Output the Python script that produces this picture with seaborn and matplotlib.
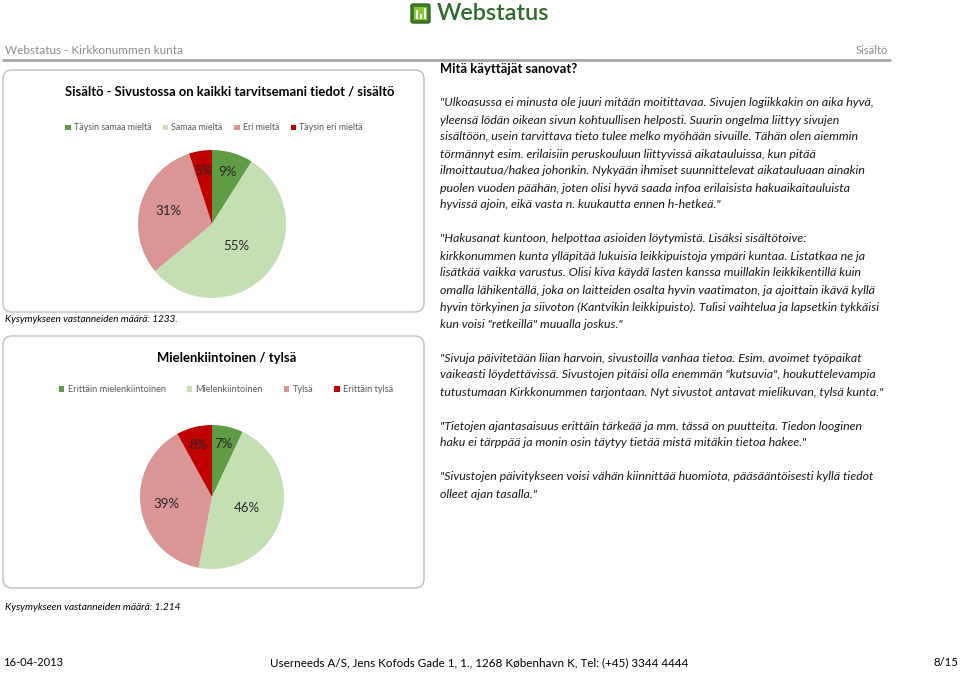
import matplotlib
matplotlib.use("Agg")
import matplotlib.pyplot as plt
from matplotlib.patches import FancyBboxPatch, Rectangle
import numpy as np
import seaborn as sns

# ---------------- data ----------------
chart1_title = "Sisältö - Sivustossa on kaikki tarvitsemani tiedot / sisältö"
chart1_labels = ["Täysin samaa mieltä", "Samaa mieltä", "Eri mieltä", "Täysin eri mieltä"]
chart1_values = [9, 55, 31, 5]
chart1_note = "Kysymykseen vastanneiden määrä: 1233."

chart2_title = "Mielenkiintoinen / tylsä"
chart2_labels = ["Erittäin mielenkiintoinen", "Mielenkiintoinen", "Tylsä", "Erittäin tylsä"]
chart2_values = [7, 46, 39, 8]
chart2_note = "Kysymykseen vastanneiden määrä: 1.214"

header_left = "Webstatus - Kirkkonummen kunta"
header_right = "Sisältö"
quotes_heading = "Mitä käyttäjät sanovat?"
quotes = [
    ['"Ulkoasussa ei minusta ole juuri mitään moitittavaa. Sivujen logiikkakin on aika hyvä,',
     'yleensä lödän oikean sivun kohtuullisen helposti. Suurin ongelma liittyy sivujen',
     'sisältöön, usein tarvittava tieto tulee melko myöhään sivuille. Tähän olen aiemmin',
     'törmännyt esim. erilaisiin peruskouluun liittyvissä aikatauluissa, kun pitää',
     'ilmoittautua/hakea johonkin. Nykyään ihmiset suunnittelevat aikatauluaan ainakin',
     'puolen vuoden päähän, joten olisi hyvä saada infoa erilaisista hakuaikaitauluista',
     'hyvissä ajoin, eikä vasta n. kuukautta ennen h-hetkeä."'],
    ['"Hakusanat kuntoon, helpottaa asioiden löytymistä. Lisäksi sisältötoive:',
     'kirkkonummen kunta ylläpitää lukuisia leikkipuistoja ympäri kuntaa. Listatkaa ne ja',
     'lisätkää vaikka varustus. Olisi kiva käydä lasten kanssa muillakin leikkikentillä kuin',
     'omalla lähikentällä, joka on laitteiden osalta hyvin vaatimaton, ja ajoittain ikävä kyllä',
     'hyvin törkyinen ja siivoton (Kantvikin leikkipuisto). Tulisi vaihtelua ja lapsetkin tykkäisi',
     'kun voisi "retkeillä" muualla joskus."'],
    ['"Sivuja päivitetään liian harvoin, sivustoilla vanhaa tietoa. Esim. avoimet työpaikat',
     'vaikeasti löydettävissä. Sivustojen pitäisi olla enemmän "kutsuvia", houkuttelevampia',
     'tutustumaan Kirkkonummen tarjontaan. Nyt sivustot antavat mielikuvan, tylsä kunta."'],
    ['"Tietojen ajantasaisuus erittäin tärkeää ja mm. tässä on puutteita. Tiedon looginen',
     'haku ei tärppää ja monin osin täytyy tietää mistä mitäkin tietoa hakee."'],
    ['"Sivustojen päivitykseen voisi vähän kiinnittää huomiota, pääsääntöisesti kyllä tiedot',
     'olleet ajan tasalla."'],
]
footer_left = "16-04-2013"
footer_center = "Userneeds A/S, Jens Kofods Gade 1, 1., 1268 København K, Tel: (+45) 3344 4444"
footer_right = "8/15"
logo_text = "Webstatus"

# ---------------- style ----------------
sns.set_theme(style="white")
plt.rcParams['font.family'] = ['Lato', 'DejaVu Sans']
palette = sns.color_palette(["#5E9C45", "#C4DFB2", "#D99694", "#C00000"])
W, H = 960, 673

fig = plt.figure(figsize=(W / 100, H / 100), dpi=100)
bg = fig.add_axes([0, 0, 1, 1])
bg.set_xlim(0, W)
bg.set_ylim(H, 0)
bg.axis("off")

to_fit = []

def txt(x, y, s, w=None, **kw):
    kw.setdefault("va", "center")
    kw.setdefault("fontsize", 10)
    t = bg.text(x, y, s, **kw)
    if w is not None:
        to_fit.append((t, w))
    return t

# logo
bg.add_patch(FancyBboxPatch((411, 4), 19, 19, boxstyle="round,pad=0,rounding_size=2",
                            fc="#3E7F26", ec="#2F6A1E", lw=1))
bg.add_patch(Rectangle((414, 7), 13, 13, fc="#8CC63F", ec="none"))
for bx, bh in [(415.5, 9), (419.5, 5), (423.5, 11)]:
    bg.add_patch(Rectangle((bx, 19 - bh), 2.5, bh, fc="#F4F9EC", ec="none"))
txt(437, 14, logo_text, w=113, color="#2E6B2A", fontweight="semibold")

# header
txt(5, 51, header_left, w=177, color="#8C8C8C")
txt(888, 51, header_right, w=32, color="#8C8C8C", ha="right")
bg.plot([3, 890], [60, 60], color="#A6A6A6", lw=2)

# chart boxes
for (y0, y1) in [(70, 312), (336, 588)]:
    bg.add_patch(FancyBboxPatch((3, y0), 421, y1 - y0,
                                boxstyle="round,pad=0,rounding_size=9",
                                fc="white", ec="#BFBFBF", lw=1.0))


def draw_pie(cx, cy, r, values, labels, title, title_xy, title_w, leg_y, leg_x, dists,
             leg_fs, leg_cs):
    ax = fig.add_axes([(cx - r) / W, 1 - (cy + r) / H, 2 * r / W, 2 * r / H])
    wedges, _ = ax.pie(values, colors=palette, startangle=90, counterclock=False,
                       radius=1, wedgeprops=dict(linewidth=0))
    ax.set_xlim(-1, 1)
    ax.set_ylim(-1, 1)
    ax.set_aspect("equal")
    ax.axis("off")
    total = float(sum(values))
    for wdg, v, d in zip(wedges, values, dists):
        ang = np.deg2rad((wdg.theta1 + wdg.theta2) / 2)
        ax.text(d * np.cos(ang), d * np.sin(ang), f"{v / total * 100:.0f}%",
                ha="center", va="center", fontsize=9.5, color="#262626")
    txt(title_xy[0], title_xy[1], title, w=title_w, ha="center", fontweight="bold",
        color="#000000")
    leg = bg.legend(wedges, labels, ncol=4, loc="center", bbox_to_anchor=(leg_x, leg_y),
                    bbox_transform=bg.transData, frameon=False, fontsize=leg_fs,
                    handlelength=0.6, handleheight=0.6, handletextpad=0.35,
                    columnspacing=leg_cs, labelcolor="#595959")
    return leg

leg1 = draw_pie(212, 224, 74, chart1_values, chart1_labels, chart1_title, (230, 91), 329,
                128, 214, [0.73, 0.44, 0.61, 0.73], 6.4, 1.3)
bg.add_artist(leg1)
leg2 = draw_pie(212, 497, 72, chart2_values, chart2_labels, chart2_title, (227, 358), 140,
                390, 226, [0.75, 0.51, 0.64, 0.75], 6.6, 2.3)

txt(5, 320, chart1_note, w=173, style="italic", color="#000000")
txt(5, 608, chart2_note, w=175, style="italic", color="#000000")

# quotes
y = 69
step = 17
txt(440, y, quotes_heading, w=136, fontweight="bold", color="#000000")
y += 2 * step
qtexts = []
for para in quotes:
    for line in para:
        t = txt(440, y, line, style="italic", color="#1A1A1A")
        qtexts.append(t)
        y += step
    y += step

# footer
txt(3, 663, footer_left, w=60, color="#000000")
txt(479, 663, footer_center, w=418, ha="center", color="#000000")
txt(958, 663, footer_right, w=25, ha="right", color="#000000")

# fit text widths
fig.canvas.draw()
rend = fig.canvas.get_renderer()
for t, w in to_fit:
    bb = t.get_window_extent(renderer=rend)
    t.set_fontsize(t.get_fontsize() * w / bb.width)
bb = qtexts[0].get_window_extent(renderer=rend)
qs = qtexts[0].get_fontsize() * 437 / bb.width
for t in qtexts:
    t.set_fontsize(qs)

fig.savefig("out.png", dpi=100)
